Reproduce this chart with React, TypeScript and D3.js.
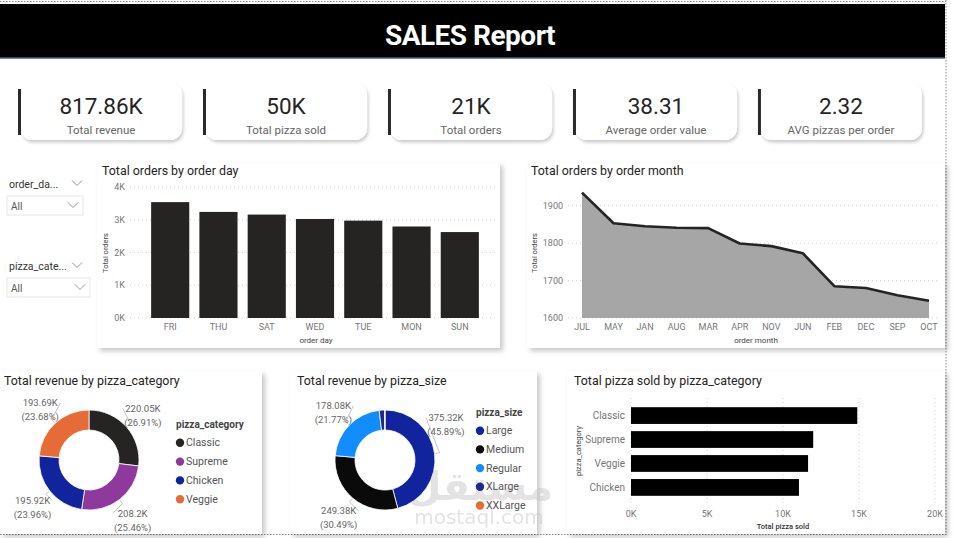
import React from "react";
import * as d3 from "d3";

// KPI cards
const kpiValues = ["817.86K", "50K", "21K", "38.31", "2.32"];
const kpiLabels = ["Total revenue", "Total pizza sold", "Total orders", "Average order value", "AVG pizzas per order"];

// Total orders by order day
const orderDays = ["FRI", "THU", "SAT", "WED", "TUE", "MON", "SUN"];
const ordersByDay = [3538, 3239, 3158, 3024, 2973, 2794, 2624];
const dayTicks = [0, 1000, 2000, 3000, 4000];

// Total orders by order month
const orderMonths = ["JUL", "MAY", "JAN", "AUG", "MAR", "APR", "NOV", "JUN", "FEB", "DEC", "SEP", "OCT"];
const ordersByMonth = [1935, 1853, 1845, 1841, 1840, 1799, 1792, 1773, 1685, 1680, 1661, 1646];
const monthTicks = [1600, 1700, 1800, 1900];

// Revenue (K) by pizza category
const revenueCategories = ["Classic", "Supreme", "Chicken", "Veggie"];
const revenueByCategory = [220.05, 208.2, 195.92, 193.69];

// Revenue (K) by pizza size
const pizzaSizes = ["Large", "Medium", "Regular", "XLarge", "XXLarge"];
const revenueBySize = [375.32, 249.38, 178.08, 14.08, 1.01];

// Pizzas sold by category
const soldCategories = ["Classic", "Supreme", "Veggie", "Chicken"];
const pizzasSold = [14888, 11987, 11649, 11050];
const soldTicks = [0, 5000, 10000, 15000, 20000];

const categoryColors = ["#252423", "#8E3A9C", "#12239E", "#E66C37"];
const sizeColors = ["#12239E", "#0A0A0A", "#118DFF", "#1E2C86", "#E66C37"];

const FONT = "Roboto, 'Segoe UI', sans-serif";
const TITLE = "#252423";
const AXIS = "#777";
const GRID = "#cfcfcf";
const TITLE_SIZE = 12.4;

const kFmt = (v: number) => `${v / 1000}K`;

function Panel({ x, y, w, h }: { x: number; y: number; w: number; h: number }) {
  return <rect x={x} y={y} width={w} height={h} fill="#fff" filter="url(#panelShadow)" />;
}

function Donut(props: {
  cx: number; cy: number; values: number[]; names: string[]; colors: string[];
  legendTitle: string; legendX: number; legendY: number; legendStep: number;
}) {
  const { cx, cy, values, names, colors, legendTitle, legendX, legendY, legendStep } = props;
  const outer = 50, inner = 30, labelR = 72;
  const total = d3.sum(values);
  const arcs = d3.pie<number>().sort(null).value((d) => d)(values);
  const arc = d3.arc<d3.PieArcDatum<number>>().innerRadius(inner).outerRadius(outer);
  const polar = (a: number, r: number): [number, number] => [cx + r * Math.sin(a), cy - r * Math.cos(a)];
  // push labels away from the 3 and 9 o'clock positions
  const offHorizon = (a: number) => {
    const gap = 0.56;
    for (const h of [Math.PI / 2, (3 * Math.PI) / 2]) {
      if (Math.abs(a - h) < gap) return a < h ? h - gap : h + gap;
    }
    return a;
  };
  return (
    <g>
      <g transform={`translate(${cx},${cy})`}>
        {arcs.map((a, i) => (
          <path key={i} d={arc(a) || ""} fill={colors[i]} stroke="#fff" strokeWidth={0.8} />
        ))}
      </g>
      {arcs.map((a, i) => {
        const pct = (values[i] / total) * 100;
        if (pct < 5) return null;
        const mid = (a.startAngle + a.endAngle) / 2;
        const la = offHorizon(mid);
        const [tx, ty] = polar(la, labelR);
        const side = Math.sin(la) >= 0 ? 1 : -1;
        const l1 = `${+values[i].toFixed(2)}K`;
        const l2 = `(${pct.toFixed(2)}%)`;
        const half = Math.max(l1.length, l2.length) * 2.25;
        const end: [number, number] = [tx - side * (half + 2), ty - 4];
        const p0 = polar(mid, outer + 1);
        const p1 = polar(mid, outer + 5);
        return (
          <g key={i}>
            <polyline points={[p0, p1, end].map((p) => p.join(",")).join(" ")} fill="none" stroke="#b5b5b5" strokeWidth={0.8} />
            <text x={tx} y={ty - 4} dy="0.35em" textAnchor="middle" fontSize={9.5} fill="#666">{l1}</text>
            <text x={tx} y={ty + 10} dy="0.35em" textAnchor="middle" fontSize={9.5} fill="#666">{l2}</text>
          </g>
        );
      })}
      <text x={legendX - 4} y={legendY} dy="0.35em" fontSize={10} fontWeight={700} fill="#444">{legendTitle}</text>
      {names.map((n, i) => (
        <g key={n}>
          <circle cx={legendX} cy={legendY + legendStep * (i + 1)} r={4.2} fill={colors[i]} />
          <text x={legendX + 6} y={legendY + legendStep * (i + 1)} dy="0.35em" fontSize={10.5} fill="#555">{n}</text>
        </g>
      ))}
    </g>
  );
}

function Slicer({ x, y, label, w }: { x: number; y: number; label: string; w: number }) {
  const chev = (cx: number, cy: number) => `M${cx - 5},${cy - 2.5} L${cx},${cy + 2.5} L${cx + 5},${cy - 2.5}`;
  return (
    <g>
      <text x={x + 2} y={y} dy="0.35em" fontSize={10.5} fill="#333">{label}</text>
      <path d={chev(x + 70, y - 1)} fill="none" stroke="#888" strokeWidth={0.9} />
      <rect x={x} y={y + 12} width={w} height={19} fill="#fff" stroke="#e6e6e6" />
      <text x={x + 4} y={y + 22} dy="0.35em" fontSize={10} fill="#555">All</text>
      <path d={chev(x + w - 10, y + 21)} fill="none" stroke="#888" strokeWidth={0.9} />
    </g>
  );
}

export default function App() {
  // KPI card layout
  const kpiX = d3.scaleBand<string>().domain(kpiLabels).range([20, 922]).paddingInner(0.124);

  // order day bar chart
  const dayX = d3.scaleBand<string>().domain(orderDays).range([141, 489]).padding(0.21);
  const dayY = d3.scaleLinear().domain([0, 4000]).range([318, 187]);

  // order month area chart
  const monthX = d3.scalePoint<string>().domain(orderMonths).range([582, 929]);
  const monthY = d3.scaleLinear().domain([1600, 1950]).range([318, 187]);
  const monthPts = orderMonths.map((m, i) => ({ m, v: ordersByMonth[i] }));
  const area = d3.area<{ m: string; v: number }>().x((d) => monthX(d.m)!).y0(monthY(1600)).y1((d) => monthY(d.v));
  const line = d3.line<{ m: string; v: number }>().x((d) => monthX(d.m)!).y((d) => monthY(d.v));

  // pizzas sold horizontal bars
  const soldX = d3.scaleLinear().domain([0, 20000]).range([631, 935]);
  const soldY = d3.scaleBand<string>().domain(soldCategories).range([400, 503]).padding(0.3);

  return (
    <svg width={960} height={538} style={{ position: "absolute", left: 0, top: 0, fontFamily: FONT }}>
      <defs>
        <filter id="panelShadow" x="-10%" y="-10%" width="125%" height="125%">
          <feDropShadow dx={3} dy={3} stdDeviation={2.5} floodColor="#000" floodOpacity={0.22} />
        </filter>
        <filter id="cardShadow" x="-10%" y="-10%" width="125%" height="130%">
          <feDropShadow dx={1.5} dy={2.5} stdDeviation={1.8} floodColor="#000" floodOpacity={0.2} />
        </filter>
      </defs>
      <rect width={960} height={538} fill="#fff" />

      {/* page frame */}
      <line x1={0} x2={946} y1={1.5} y2={1.5} stroke="#8a8a8a" strokeDasharray="1.5,1.5" />
      <line x1={946} x2={946} y1={0} y2={535} stroke="#8a8a8a" strokeDasharray="1.5,1.5" />
      <line x1={0} x2={946} y1={534.5} y2={534.5} stroke="#8a8a8a" strokeDasharray="1.5,1.5" />

      {/* header */}
      <rect x={0} y={4} width={945} height={54} fill="#000" />
      <line x1={0} x2={945} y1={58} y2={58} stroke="#3d5f87" strokeWidth={1.5} />
      <text x={470} y={35} dy="0.35em" textAnchor="middle" fontSize={28} fontWeight={700} fill="#fff" letterSpacing={-0.5}>SALES Report</text>

      {/* KPI cards */}
      {kpiLabels.map((lab, i) => {
        const x = kpiX(lab)!;
        const w = kpiX.bandwidth();
        return (
          <g key={lab}>
            <rect x={x} y={83} width={w} height={57} rx={12} fill="#fff" filter="url(#cardShadow)" />
            <rect x={x - 2} y={89} width={3} height={46} fill="#2a2a2a" />
            <text x={x + w / 2} y={106} dy="0.35em" textAnchor="middle" fontSize={22.5} fill={TITLE}>{kpiValues[i]}</text>
            <text x={x + w / 2} y={130} dy="0.35em" textAnchor="middle" fontSize={11.5} fill="#666">{lab}</text>
          </g>
        );
      })}

      {/* slicers */}
      <Slicer x={7} y={184} label="order_da..." w={76} />
      <Slicer x={7} y={266} label="pizza_cate..." w={83} />

      {/* Total orders by order day */}
      <Panel x={97} y={163} w={403} h={185} />
      <text x={102} y={171} dy="0.35em" fontSize={TITLE_SIZE} fill={TITLE}>Total orders by order day</text>
      {dayTicks.map((t) => (
        <g key={t}>
          <line x1={130} x2={497} y1={dayY(t)} y2={dayY(t)} stroke={GRID} strokeDasharray="1,3" />
          <text x={125} y={dayY(t)} dy="0.35em" textAnchor="end" fontSize={9} fill={AXIS}>{kFmt(t)}</text>
        </g>
      ))}
      {orderDays.map((d, i) => (
        <g key={d}>
          <rect x={dayX(d)} y={dayY(ordersByDay[i])} width={dayX.bandwidth()} height={dayY(0) - dayY(ordersByDay[i])} fill="#252423" />
          <text x={dayX(d)! + dayX.bandwidth() / 2} y={327} dy="0.35em" textAnchor="middle" fontSize={9} fill={AXIS}>{d}</text>
        </g>
      ))}
      <text x={316} y={340} dy="0.35em" textAnchor="middle" fontSize={8} fill="#444">order day</text>
      <text transform="translate(105,253) rotate(-90)" dy="0.35em" textAnchor="middle" fontSize={7.5} fill="#444">Total orders</text>

      {/* Total orders by order month */}
      <Panel x={527} y={163} w={418} h={185} />
      <text x={531} y={171} dy="0.35em" fontSize={TITLE_SIZE} fill={TITLE}>Total orders by order month</text>
      {monthTicks.map((t) => (
        <g key={t}>
          <line x1={568} x2={940} y1={monthY(t)} y2={monthY(t)} stroke={GRID} strokeDasharray="1,3" />
          <text x={563} y={monthY(t)} dy="0.35em" textAnchor="end" fontSize={9} fill={AXIS}>{t}</text>
        </g>
      ))}
      <path d={area(monthPts) || ""} fill="#a6a6a6" />
      <path d={line(monthPts) || ""} fill="none" stroke="#252423" strokeWidth={2.6} strokeLinejoin="round" />
      {orderMonths.map((m) => (
        <text key={m} x={monthX(m)} y={327} dy="0.35em" textAnchor="middle" fontSize={9} fill={AXIS}>{m}</text>
      ))}
      <text x={756} y={340} dy="0.35em" textAnchor="middle" fontSize={8} fill="#444">order month</text>
      <text transform="translate(534,253) rotate(-90)" dy="0.35em" textAnchor="middle" fontSize={7.5} fill="#444">Total orders</text>

      {/* Total revenue by pizza_category */}
      <Panel x={0} y={371} w={262} h={163} />
      <text x={4} y={381} dy="0.35em" fontSize={TITLE_SIZE} fill={TITLE}>Total revenue by pizza_category</text>
      <Donut cx={89} cy={460} values={revenueByCategory} names={revenueCategories} colors={categoryColors}
        legendTitle="pizza_category" legendX={180} legendY={424} legendStep={18.8} />

      {/* Total revenue by pizza_size */}
      <Panel x={290} y={371} w={247} h={163} />
      <text x={297} y={381} dy="0.35em" fontSize={TITLE_SIZE} fill={TITLE}>Total revenue by pizza_size</text>
      <g opacity={0.5} fill="#c9c9c9">
        <text x={480} y={500} textAnchor="middle" fontSize={40} fontWeight={700} fontFamily="'DejaVu Sans', sans-serif">مستقل</text>
        <text x={479} y={524} textAnchor="middle" fontSize={20} fontFamily="'DejaVu Sans', sans-serif">mostaql.com</text>
      </g>
      <Donut cx={385} cy={460} values={revenueBySize} names={pizzaSizes} colors={sizeColors}
        legendTitle="pizza_size" legendX={480} legendY={412} legendStep={18.7} />

      {/* Total pizza sold by pizza_category */}
      <Panel x={567} y={371} w={378} h={163} />
      <text x={574} y={381} dy="0.35em" fontSize={TITLE_SIZE} fill={TITLE}>Total pizza sold by pizza_category</text>
      {soldTicks.map((t) => (
        <g key={t}>
          <line x1={soldX(t)} x2={soldX(t)} y1={398} y2={506} stroke={GRID} strokeDasharray="1,3" />
          <text x={soldX(t)} y={514} dy="0.35em" textAnchor="middle" fontSize={9} fill={AXIS}>{kFmt(t)}</text>
        </g>
      ))}
      {soldCategories.map((c, i) => (
        <g key={c}>
          <rect x={soldX(0)} y={soldY(c)} width={soldX(pizzasSold[i]) - soldX(0)} height={soldY.bandwidth()} fill="#000" />
          <text x={625} y={soldY(c)! + soldY.bandwidth() / 2} dy="0.35em" textAnchor="end" fontSize={10} fill={AXIS}>{c}</text>
        </g>
      ))}
      <text x={783} y={526} dy="0.35em" textAnchor="middle" fontSize={7.5} fontWeight={500} fill="#333">Total pizza sold</text>
      <text transform="translate(578,451) rotate(-90)" dy="0.35em" textAnchor="middle" fontSize={7.5} fill="#444">pizza_category</text>
    </svg>
  );
}
